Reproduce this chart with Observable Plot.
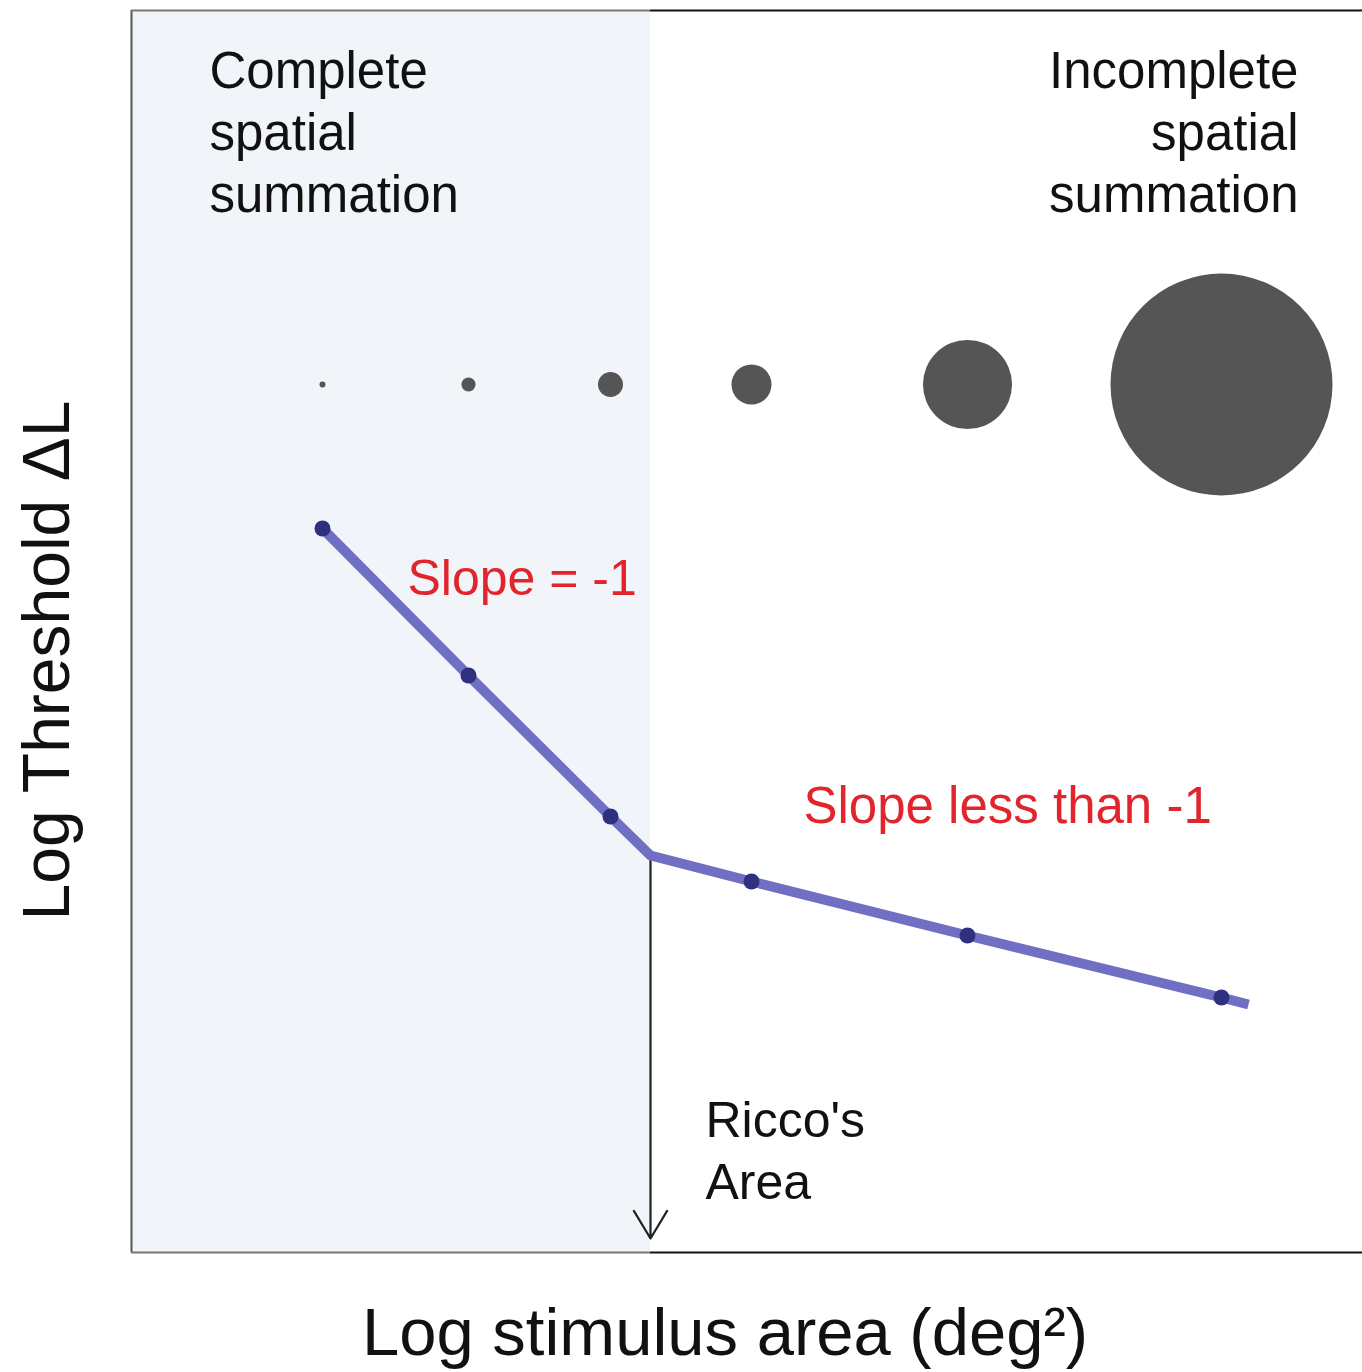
<!DOCTYPE html>
<html>
<head>
<meta charset="utf-8">
<script src="https://cdn.jsdelivr.net/npm/d3@7"></script>
<script src="https://cdn.jsdelivr.net/npm/@observablehq/plot@0.6"></script>
<style>
  html, body { margin: 0; padding: 0; background: #fff; }
  svg { display: block; }
</style>
</head>
<body>
<div id="chart"></div>
<script>
// Schematic values (arbitrary log units)
const logArea      = [1.91, 3.37, 4.79, 5.19, 6.20, 8.36, 10.90, 11.17];
const logThreshold = [7.24, 5.77, 4.36, 3.97, 3.71, 3.17, 2.55, 2.48];
const measured     = [true, true, true, false, true, true, true, false];
const stimulusRelArea = [0.00073, 0.004, 0.0127, 0.0325, 0.161, 1];
const stimulusRowY = 8.68;
const riccoX = 5.19;
const riccoY = 3.97;
const xMax = 12.31, yMax = 12.42;

const linePts = logArea.map((a, i) => ({a, t: logThreshold[i], m: measured[i]}));
const dotPts = linePts.filter(d => d.m);
const stimuli = dotPts.map((d, i) => ({a: d.a, y: stimulusRowY, s: stimulusRelArea[i]}));

const font = "'Liberation Sans', Arial, Helvetica, sans-serif";
const red = "#e1252c";

const chart = Plot.plot({
  width: 1362,
  height: 1372,
  marginLeft: 131,
  marginRight: 0,
  marginTop: 10,
  marginBottom: 120,
  style: {fontFamily: font, background: "#fff"},
  x: {domain: [0, xMax], axis: null},
  y: {domain: [0, yMax], axis: null},
  r: {type: "sqrt", domain: [0, 1], range: [0, 111]},
  marks: [
    // shaded complete-summation region
    Plot.rect([{x1: 0, x2: riccoX, y1: 0, y2: yMax}], {x1: "x1", x2: "x2", y1: "y1", y2: "y2", fill: "#f1f4f8"}),
    // frame (left, top, bottom)
    Plot.ruleX([0], {y1: 0, y2: yMax, stroke: "#555", strokeWidth: 2}),
    Plot.ruleY([yMax], {x1: 0, x2: riccoX, stroke: "#777", strokeWidth: 2}),
    Plot.ruleY([yMax], {x1: riccoX, x2: xMax, stroke: "#111", strokeWidth: 2}),
    Plot.ruleY([0], {x1: 0, x2: riccoX, stroke: "#777", strokeWidth: 2}),
    Plot.ruleY([0], {x1: riccoX, x2: xMax, stroke: "#111", strokeWidth: 2}),
    // stimulus discs
    Plot.dot(stimuli, {x: "a", y: "y", r: "s", fill: "#555555", stroke: "none"}),
    // Ricco's area arrow
    Plot.arrow([{x: riccoX, y1: riccoY, y2: 0.14}], {x1: "x", x2: "x", y1: "y1", y2: "y2", stroke: "#222", strokeWidth: 2.2, headLength: 22, headAngle: 62, insetEnd: 0}),
    // threshold curve
    Plot.line(linePts, {x: "a", y: "t", stroke: "#6f6fc3", strokeWidth: 10, strokeLinejoin: "round", strokeLinecap: "butt"}),
    Plot.dot(dotPts, {x: "a", y: "t", r: 8, fill: "#2f3180", stroke: "none"}),
    // region labels
    Plot.text(["Complete\nspatial\nsummation"], {frameAnchor: "top-left", dx: 78, dy: 33, textAnchor: "start", lineAnchor: "top", fontSize: 51, lineHeight: 1.22, fill: "#111"}),
    Plot.text(["Incomplete\nspatial\nsummation"], {frameAnchor: "top-right", dx: -64, dy: 33, textAnchor: "end", lineAnchor: "top", fontSize: 51, lineHeight: 1.22, fill: "#111"}),
    // slope labels
    Plot.text(["Slope = -1"], {x: 2.76, y: 6.74, textAnchor: "start", fontSize: 50, fill: red}),
    Plot.text(["Slope less than -1"], {x: 6.72, y: 4.46, textAnchor: "start", fontSize: 51, fill: red}),
    // Ricco's area label
    Plot.text(["Ricco's\nArea"], {x: 5.74, y: 1.6, textAnchor: "start", lineAnchor: "top", fontSize: 50, lineHeight: 1.25, fill: "#111"}),
    // axis titles
    Plot.text(["Log stimulus area (deg²)"], {frameAnchor: "bottom", dx: -22, dy: 102, fontSize: 67, fill: "#111"}),
    Plot.text(["Log Threshold ΔL"], {frameAnchor: "left", dx: -84, dy: 29, textAnchor: "middle", rotate: -90, fontSize: 66, fill: "#111"})
  ]
});
document.getElementById("chart").appendChild(chart);
</script>
</body>
</html>
